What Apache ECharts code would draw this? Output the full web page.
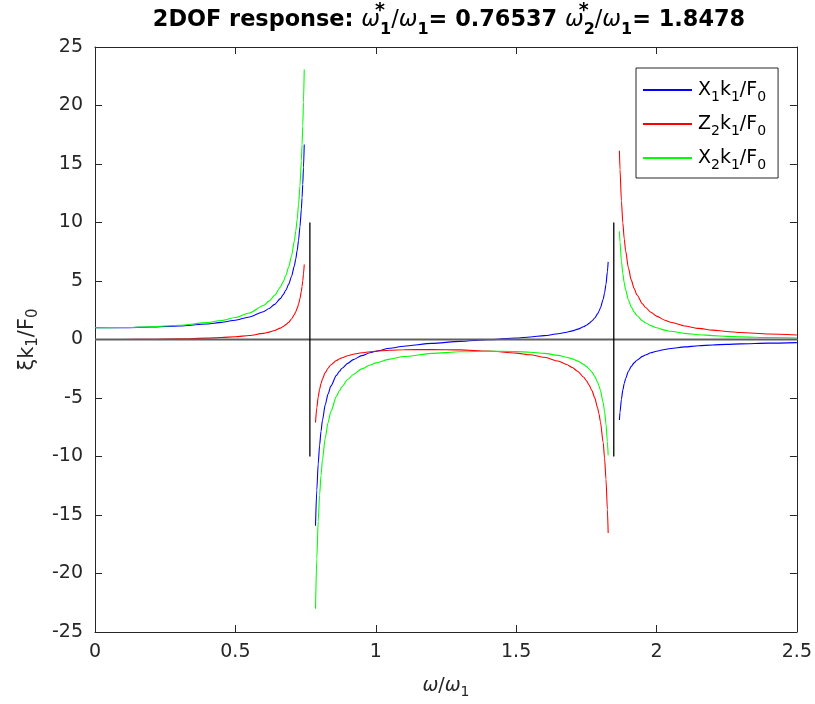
<!DOCTYPE html>
<html>
<head>
<meta charset="utf-8">
<script src="https://cdn.jsdelivr.net/npm/echarts@6/dist/echarts.min.js"></script>
<style>
  html, body { margin: 0; padding: 0; background: #fff; }
  #chart { width: 815px; height: 704px; }
</style>
</head>
<body>
<div id="chart"></div>
<script>
// Frequency ratio samples (omega/omega_1) for the three branches between resonances
const rLow  = [0, 0.1, 0.2, 0.3, 0.4, 0.45, 0.5, 0.55, 0.6, 0.62, 0.64, 0.66, 0.67, 0.68, 0.69, 0.7, 0.71, 0.715, 0.72, 0.725, 0.73, 0.735, 0.7375, 0.74, 0.7425, 0.7453];
const rMid  = [0.7854, 0.79, 0.795, 0.8, 0.805, 0.81, 0.82, 0.83, 0.84, 0.86, 0.87, 0.88, 0.9, 0.92, 0.95, 0.98, 1.0, 1.05, 1.1, 1.2, 1.3, 1.4, 1.5, 1.55, 1.6, 1.65, 1.68, 1.7, 1.72, 1.74, 1.75, 1.76, 1.77, 1.78, 1.79, 1.795, 1.8, 1.81, 1.815, 1.82, 1.825, 1.8278];
const rHigh = [1.8678, 1.87, 1.875, 1.88, 1.885, 1.89, 1.9, 1.91, 1.92, 1.93, 1.95, 1.96, 1.98, 2.0, 2.03, 2.05, 2.1, 2.15, 2.2, 2.25, 2.3, 2.4, 2.5];

// X1 k1 / F0
const x1Low  = [1, 1.015, 1.064, 1.159, 1.328, 1.460, 1.647, 1.926, 2.378, 2.648, 3.004, 3.497, 3.821, 4.222, 4.729, 5.391, 6.293, 6.878, 7.593, 8.484, 9.628, 11.148, 12.113, 13.268, 14.676, 16.667];
const x1Mid  = [-15.917, -12.871, -10.634, -9.043, -7.853, -6.930, -5.590, -4.666, -3.989, -3.064, -2.734, -2.462, -2.038, -1.724, -1.380, -1.131, -1.000, -0.751, -0.574, -0.332, -0.163, -0.020, 0.129, 0.219, 0.332, 0.489, 0.621, 0.737, 0.886, 1.089, 1.220, 1.380, 1.581, 1.841, 2.189, 2.412, 2.682, 3.434, 3.983, 4.728, 5.800, 6.634];
const x1High = [-6.887, -6.219, -5.101, -4.330, -3.765, -3.334, -2.719, -2.301, -1.998, -1.769, -1.443, -1.324, -1.138, -1.000, -0.849, -0.773, -0.633, -0.538, -0.468, -0.415, -0.373, -0.310, -0.265];

// Z2 k1 / F0
const z2Low  = [0, 0.005, 0.022, 0.055, 0.116, 0.165, 0.235, 0.343, 0.522, 0.630, 0.774, 0.974, 1.106, 1.270, 1.477, 1.749, 2.121, 2.362, 2.657, 3.025, 3.497, 4.126, 4.525, 5.002, 5.585, 6.409];
const z2Mid  = [-7.099, -5.838, -4.913, -4.255, -3.764, -3.383, -2.831, -2.451, -2.174, -1.798, -1.665, -1.555, -1.387, -1.265, -1.135, -1.045, -1.000, -0.923, -0.879, -0.854, -0.888, -0.981, -1.161, -1.307, -1.518, -1.842, -2.132, -2.393, -2.736, -3.207, -3.516, -3.895, -4.372, -4.991, -5.824, -6.359, -7.007, -8.817, -10.137, -11.932, -14.516, -16.529];
const z2High = [16.139, 14.527, 11.832, 9.973, 8.614, 7.576, 6.097, 5.094, 4.368, 3.819, 3.044, 2.761, 2.323, 2.000, 1.650, 1.474, 1.158, 0.948, 0.798, 0.686, 0.600, 0.475, 0.389];

// X2 k1 / F0
const x2Low  = [1, 1.020, 1.086, 1.214, 1.443, 1.625, 1.882, 2.269, 2.900, 3.278, 3.778, 4.471, 4.927, 5.491, 6.206, 7.140, 8.413, 9.240, 10.249, 11.509, 13.125, 15.274, 16.638, 18.270, 20.260, 23.076];
const x2Mid  = [-23.016, -18.709, -15.547, -13.298, -11.617, -10.313, -8.422, -7.117, -6.163, -4.862, -4.399, -4.017, -3.425, -2.989, -2.514, -2.176, -2.000, -1.674, -1.454, -1.186, -1.051, -1.001, -1.032, -1.088, -1.186, -1.353, -1.511, -1.656, -1.849, -2.119, -2.296, -2.515, -2.791, -3.150, -3.635, -3.947, -4.325, -5.383, -6.154, -7.204, -8.717, -9.895];
const x2High = [9.252, 8.309, 6.731, 5.644, 4.848, 4.242, 3.378, 2.792, 2.370, 2.051, 1.601, 1.437, 1.185, 1.000, 0.801, 0.702, 0.525, 0.410, 0.330, 0.271, 0.227, 0.165, 0.125];

// Natural frequency ratios and marker extents
const naturalFreqs = [0.76537, 1.8478];
const markerSpan = [-10, 10];
const xRange = [0, 2.5];
const yRange = [-25, 25];

const seriesNames = ['X1k1/F0', 'Z2k1/F0', 'X2k1/F0'];
const seriesColors = ['#0000ff', '#ff0000', '#00ff00'];
const legendLabels = {
  'X1k1/F0': 'X{s|1}k{s|1}/F{s|0}',
  'Z2k1/F0': 'Z{s|2}k{s|1}/F{s|0}',
  'X2k1/F0': 'X{s|2}k{s|1}/F{s|0}'
};

const INK = '#262626';
const FONT = 'DejaVu Sans';

function pairs(xs, ys) { return xs.map((x, i) => [x, ys[i]]); }

const branches = [
  [rLow, x1Low, z2Low, x2Low],
  [rMid, x1Mid, z2Mid, x2Mid],
  [rHigh, x1High, z2High, x2High]
];

const series = [];
branches.forEach(b => {
  for (let k = 0; k < 3; k++) {
    series.push({
      name: seriesNames[k],
      type: 'line',
      data: pairs(b[0], b[k + 1]),
      symbol: 'none',
      smooth: 0.25,
      smoothMonotone: 'x',
      color: seriesColors[k],
      lineStyle: { width: 1.1, color: seriesColors[k] },
      silent: true,
      z: 2
    });
  }
});

// zero line
series.push({
  type: 'line',
  data: [[xRange[0], 0], [xRange[1], 0]],
  symbol: 'none',
  lineStyle: { width: 2.2, color: '#606060' },
  silent: true,
  z: 3
});

// natural frequency markers
naturalFreqs.forEach(f => {
  series.push({
    type: 'line',
    data: [[f, markerSpan[0]], [f, markerSpan[1]]],
    symbol: 'none',
    lineStyle: { width: 1.3, color: '#000000' },
    silent: true,
    z: 4
  });
});

const tickFont = { fontFamily: FONT, fontSize: 19, color: INK };

const axisCommon = {
  axisLine: { show: true, onZero: false, lineStyle: { color: INK, width: 1 } },
  axisTick: { show: true, inside: true, length: 7, lineStyle: { color: INK, width: 1 } },
  splitLine: { show: false }
};

const option = {
  animation: false,
  backgroundColor: '#ffffff',
  title: {
    text: '{b|2DOF response: }{w|ω}{st|*}{bs|1}{r|/}{w|ω}{bs|1}{b|= 0.76537 }{w|ω}{st|*}{bs|2}{r|/}{w|ω}{bs|1}{b|= 1.8478}',
    left: 449,
    top: 2,
    textAlign: 'center',
    padding: 0,
    textStyle: {
      rich: {
        b: { fontFamily: FONT, fontSize: 22.4, fontWeight: 'bold', color: '#000', lineHeight: 36 },
        r: { fontFamily: FONT, fontSize: 22.4, fontWeight: 'normal', color: '#000', lineHeight: 36 },
        w: { fontFamily: FONT, fontSize: 22.4, fontWeight: 'normal', fontStyle: 'italic', color: '#000', lineHeight: 36 },
        st: { fontFamily: FONT, fontSize: 19, fontWeight: 'bold', color: '#000', verticalAlign: 'top', lineHeight: 16, width: 0 },
        bs: { fontFamily: FONT, fontSize: 16, fontWeight: 'bold', color: '#000', verticalAlign: 'bottom', lineHeight: 8 }
      }
    }
  },
  legend: {
    data: seriesNames,
    orient: 'vertical',
    left: 636,
    top: 68,
    padding: [8, 12, 6, 7],
    itemGap: 6,
    itemWidth: 49,
    itemHeight: 2,
    icon: 'rect',
    borderColor: INK,
    borderWidth: 1,
    backgroundColor: '#ffffff',
    selectedMode: false,
    formatter: name => legendLabels[name],
    textStyle: {
      padding: [0, 0, 0, 1],
      rich: {
        s: { fontFamily: FONT, fontSize: 14, color: '#000', verticalAlign: 'bottom', lineHeight: 14 }
      },
      fontFamily: FONT,
      fontSize: 19,
      color: '#000',
      lineHeight: 28
    }
  },
  grid: { left: 95, right: 17, top: 47, bottom: 72, containLabel: false },
  xAxis: [
    Object.assign({
      type: 'value',
      min: xRange[0],
      max: xRange[1],
      interval: 0.5,
      position: 'bottom',
      axisLabel: Object.assign({ margin: 11 }, tickFont),
      name: '{w|ω}{r|/}{w|ω}{s|1}',
      nameLocation: 'middle',
      nameGap: 41,
      nameTextStyle: {
        rich: {
          w: { fontFamily: FONT, fontSize: 19, fontStyle: 'italic', color: INK, lineHeight: 26 },
          r: { fontFamily: FONT, fontSize: 19, color: INK, lineHeight: 26 },
          s: { fontFamily: FONT, fontSize: 14, color: INK, verticalAlign: 'bottom', lineHeight: 14 }
        }
      }
    }, axisCommon),
    Object.assign({
      type: 'value',
      min: xRange[0],
      max: xRange[1],
      interval: 0.5,
      position: 'top',
      axisLabel: { show: false }
    }, axisCommon)
  ],
  yAxis: [
    Object.assign({
      type: 'value',
      min: yRange[0],
      max: yRange[1],
      interval: 5,
      position: 'left',
      axisLabel: Object.assign({ margin: 12 }, tickFont),
      name: '{r|ξk}{s|1}{r|/F}{s|0}',
      nameLocation: 'middle',
      nameRotate: 90,
      nameGap: 50,
      nameTextStyle: {
        rich: {
          r: { fontFamily: FONT, fontSize: 21, color: INK, lineHeight: 28 },
          s: { fontFamily: FONT, fontSize: 15, color: INK, verticalAlign: 'bottom', lineHeight: 14 }
        }
      }
    }, axisCommon),
    Object.assign({
      type: 'value',
      min: yRange[0],
      max: yRange[1],
      interval: 5,
      position: 'right',
      axisLabel: { show: false }
    }, axisCommon)
  ],
  series: series
};

const chart = echarts.init(document.getElementById('chart'), null, { renderer: 'canvas' });
chart.setOption(option);
</script>
</body>
</html>
